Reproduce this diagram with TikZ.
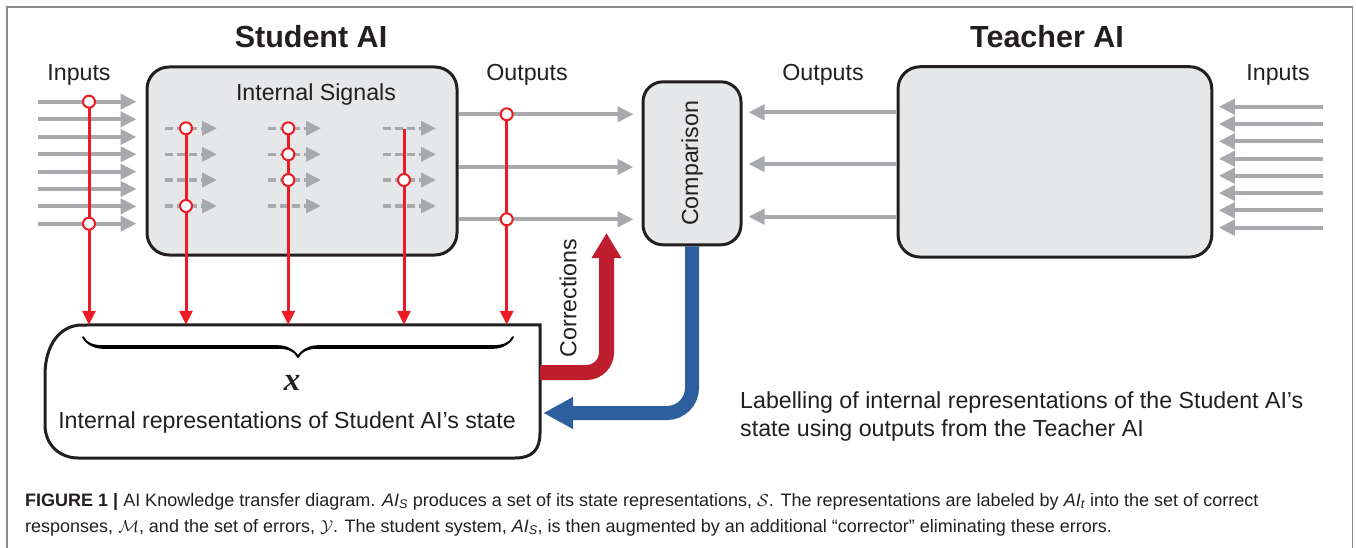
\documentclass[tikz,border=0pt]{standalone}
\usepackage{fontspec}
\setmainfont{Liberation Sans}
\newfontfamily\timesfont{Liberation Serif}
\usetikzlibrary{arrows.meta,decorations.pathreplacing,calligraphy}

\definecolor{ink}{HTML}{231F20}
\definecolor{wire}{HTML}{A7A9AC}
\definecolor{boxfill}{HTML}{E6E7E8}
\definecolor{probe}{HTML}{ED1C24}
\definecolor{fixred}{HTML}{BE1E2D}
\definecolor{labblue}{HTML}{2D5E9E}
\definecolor{framegray}{HTML}{8A8A8A}

\tikzset{
  txt/.style={text=ink, font=\fontsize{23.2}{28}\selectfont, inner sep=0pt},
  ttl/.style={text=ink, font=\fontsize{30.5}{36}\selectfont\bfseries, inner sep=0pt},
  caption/.style={text=ink, font=\fontsize{18}{22}\selectfont, inner sep=0pt},
  aibox/.style={draw=ink, line width=3pt, fill=boxfill, rounded corners=22pt,
    inner sep=0pt},
  grayarrow/.style={draw=wire, line width=4pt,
    -{Triangle[length=16pt,width=15pt]}},
  dasharrow/.style={draw=wire, line width=3.5pt, dash pattern=on 8pt off 4pt,
    -{Triangle[length=15pt,width=14pt]}},
  probeline/.style={draw=probe, line width=3pt,
    -{Triangle[length=14pt,width=13pt]}},
  tap/.style={circle, draw=probe, fill=white, line width=2pt,
    minimum size=12pt, inner sep=0pt},
  corrband/.style={draw=fixred, line width=15pt, rounded corners=20pt,
    -{Triangle[length=25pt,width=28pt]}},
  labband/.style={draw=labblue, line width=14pt, rounded corners=25pt,
    -{Triangle[length=30pt,width=30pt]}},
}

\begin{document}
\begin{tikzpicture}[x=1pt,y=-1pt]
  % canvas and outer frame
  \fill[white] (0,0) rectangle (1356,548);
  \useasboundingbox (0,0) rectangle (1356,548);
  \draw[framegray, line width=1.5pt] (7,548) -- (7,7) -- (1352.5,7) -- (1352.5,548);

  % titles and labels
  \node[ttl] (tStudent) at (311,37) {Student AI};
  \node[ttl] (tTeacher) at (1047,37) {Teacher AI};
  \node[txt] (inLabL) at (79,75) {Inputs};
  \node[txt] (outLabS) at (527,75) {Outputs};
  \node[txt] (outLabT) at (823,75) {Outputs};
  \node[txt] (inLabR) at (1278,75) {Inputs};

  % main boxes
  \node[aibox, minimum width=310pt, minimum height=188pt] (student) at (302,161) {};
  \node[aibox, minimum width=313.7pt, minimum height=190.3pt] (teacher) at (1054.9,161.9) {};
  \node[aibox, rounded corners=20pt, minimum width=98pt, minimum height=163pt] (cmp) at (692,163.3) {};
  \node[txt, rotate=90] (cmpText) at (cmp.center) {Comparison};
  \node[txt] (sigLab) at (316,95) {Internal Signals};

  % store of internal representations
  \node[minimum width=495pt, minimum height=133pt, inner sep=0pt] (repr) at (292.5,391.5) {};
  \draw[ink, line width=3pt]
    (82,325) -- (repr.north east) -- (540,433)
    .. controls (540,450) and (532,458) .. (515,458) -- (78,458)
    .. controls (60,458) and (45,445) .. (45,425) -- (45,375)
    .. controls (45,345) and (60,325) .. (82,325) -- cycle;
  \draw[ink, decorate, decoration={calligraphic brace, amplitude=20pt, mirror},
    line width=3.6pt] (83,337) -- (513,337);
  \node[text=ink, inner sep=0pt, font=\timesfont\fontsize{33}{33}\selectfont\bfseries\itshape]
    (xsym) at (292,383) {x};
  \node[txt] (reprText) at (287,422) {Internal representations of Student AI’s state};

  % student inputs
  \foreach \y [count=\i] in {101.7,119.3,137,154.3,171.7,189,206.3,223.7}{
    \coordinate (inL\i) at (38,\y);
    \draw[grayarrow, shorten >=9pt] (inL\i) -- (student.west |- inL\i);
  }
  % teacher inputs
  \foreach \y [count=\i] in {106.7,124,141.3,158.7,175.7,193,210.3,227.7}{
    \coordinate (inR\i) at (1323,\y);
    \draw[grayarrow, shorten >=5.5pt] (inR\i) -- (teacher.east |- inR\i);
  }
  % student outputs to comparison
  \foreach \y [count=\i] in {114.3,167,219.3}{
    \coordinate (rowS\i) at (0,\y);
    \draw[grayarrow, shorten >=8pt] (student.east |- rowS\i) -- (cmp.west |- rowS\i);
  }
  % teacher outputs to comparison
  \foreach \y [count=\i] in {112.3,164,216.7}{
    \coordinate (rowT\i) at (0,\y);
    \draw[grayarrow, shorten >=6pt] (teacher.west |- rowT\i) -- (cmp.east |- rowT\i);
  }
  % internal signals
  \foreach \y [count=\r] in {128.3,154.3,180,206}{
    \foreach \xa/\xb [count=\c] in {165/217,268/321,383/436}{
      \coordinate (d\c\r a) at (\xa,\y);
      \coordinate (d\c\r b) at (\xb,\y);
      \draw[dasharrow] (d\c\r a) -- (d\c\r b);
    }
  }

  % probes feeding the representation store
  \coordinate (p1) at (89,101.7);
  \coordinate (p2) at (186,128.3);
  \coordinate (p3) at (288.3,128.3);
  \coordinate (p4) at (404,129);
  \coordinate (p5) at (506.7,114.3);
  \foreach \p in {p1,p2,p3,p4,p5}{
    \draw[probeline] (\p) -- (\p |- repr.north);
  }
  \foreach \x/\y [count=\k] in {89/101.7,89/223.7,186/128.3,186/206,
      288.3/128.3,288.3/154.3,288.3/180,404/180,506.7/114.3,506.7/219.3}{
    \node[tap] (tap\k) at (\x,\y) {};
  }

  % corrections and labelling feedback
  \coordinate (corrY) at (0,372.5);
  \coordinate (corrBend) at (606.5,372.5);
  \coordinate (corrEnd) at (606.5,233);
  \draw[corrband] (repr.east |- corrY) -- (corrBend) -- (corrEnd);
  \node[txt, rotate=90] (corrText) at (568,298) {Corrections};

  \coordinate (labY) at (0,413);
  \draw[labband, shorten >=3pt] (cmp.south) -- (cmp.south |- labY) -- (repr.east |- labY);

  \node[txt, anchor=base west] (labText1) at (740,408)
    {Labelling of internal representations of the Student AI’s};
  \node[txt, anchor=base west] (labText2) at (740,436)
    {state using outputs from the Teacher AI};

  % caption
  \node[caption, anchor=base west] (cap1) at (25,506)
    {\textbf{FIGURE 1 |} AI Knowledge transfer diagram. \textit{AI}\textsubscript{\textit{S}} produces a set of its state representations, $\mathcal{S}$. The representations are labeled by \textit{AI}\textsubscript{\textit{t}} into the set of correct};
  \node[caption, anchor=base west] (cap2) at (25,532)
    {responses, $\mathcal{M}$, and the set of errors, $\mathcal{Y}$. The student system, \textit{AI}\textsubscript{\textit{S}}, is then augmented by an additional ``corrector'' eliminating these errors.};
\end{tikzpicture}
\end{document}
